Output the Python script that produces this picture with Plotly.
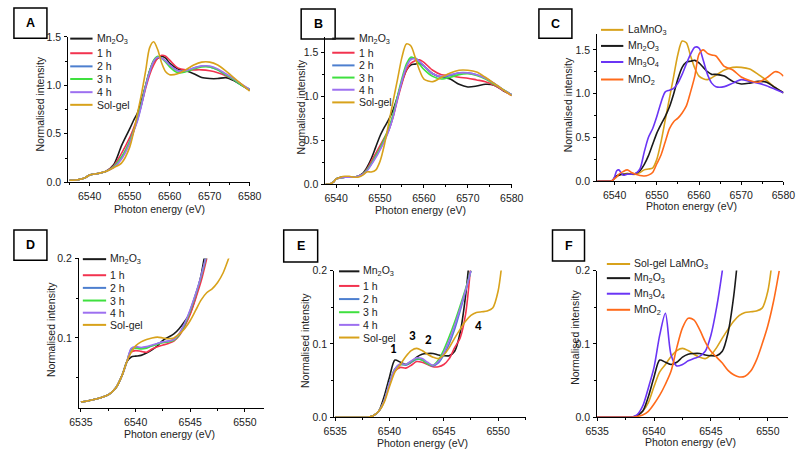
import plotly.graph_objects as go

W, H = 810, 456

# ---------------- data ----------------
# Panel A
xA = [6535, 6537, 6539, 6540, 6542, 6544, 6546, 6548, 6550, 6551, 6552, 6553, 6554, 6555,
      6556, 6557, 6558, 6559, 6560, 6562, 6564, 6566, 6568, 6570, 6572, 6574, 6576, 6578, 6580]
A_mn2o3 = [.02, .025, .05, .075, .09, .11, .18, .38, .55, .64, .72, .85, 1.0, 1.15,
           1.25, 1.28, 1.30, 1.28, 1.23, 1.17, 1.15, 1.12, 1.08, 1.07, 1.07, 1.08, 1.05, 1.0, .95]
A_1h = [.02, .025, .05, .075, .09, .11, .17, .30, .46, .56, .67, .81, .97, 1.11,
        1.21, 1.28, 1.31, 1.30, 1.26, 1.18, 1.16, 1.16, 1.16, 1.15, 1.13, 1.10, 1.06, 1.01, .95]
A_2h = [.02, .025, .05, .075, .09, .11, .16, .26, .42, .53, .65, .81, .99, 1.14,
        1.25, 1.29, 1.28, 1.25, 1.21, 1.15, 1.15, 1.18, 1.20, 1.19, 1.16, 1.11, 1.06, 1.0, .96]
A_3h = [.02, .025, .05, .075, .09, .11, .16, .26, .42, .53, .66, .82, 1.0, 1.15,
        1.26, 1.30, 1.28, 1.24, 1.19, 1.13, 1.14, 1.17, 1.19, 1.19, 1.16, 1.11, 1.06, 1.0, .96]
A_4h = [.02, .025, .05, .075, .09, .11, .15, .24, .40, .52, .64, .80, .99, 1.14,
        1.25, 1.29, 1.28, 1.25, 1.21, 1.15, 1.15, 1.18, 1.20, 1.20, 1.17, 1.12, 1.07, 1.01, .96]
A_sol = [.02, .025, .05, .075, .09, .11, .15, .20, .36, .52, .72, .92, 1.15, 1.39,
         1.45, 1.37, 1.23, 1.14, 1.11, 1.12, 1.16, 1.21, 1.24, 1.24, 1.21, 1.15, 1.08, 1.01, .94]

# Panel B
xB = [6537.6, 6538.5, 6539.5, 6540, 6541, 6542, 6543, 6544, 6545, 6546, 6547, 6548, 6549, 6550,
      6551, 6552, 6553, 6554, 6555, 6556, 6557, 6558, 6559, 6560, 6562, 6564, 6566, 6568, 6570,
      6572, 6574, 6576, 6578, 6580]
B_mn2o3 = [0, 0, .03, .06, .08, .08, .08, .08, .09, .12, .19, .29, .42, .55,
           .65, .74, .85, 1.0, 1.17, 1.30, 1.36, 1.37, 1.38, 1.35, 1.26, 1.22, 1.20, 1.14, 1.11,
           1.12, 1.14, 1.13, 1.07, 1.02]
B_1h = [0, 0, .03, .06, .07, .08, .08, .08, .09, .11, .17, .26, .35, .44,
        .53, .62, .77, .97, 1.15, 1.30, 1.38, 1.41, 1.42, 1.39, 1.30, 1.25, 1.24, 1.22, 1.21,
        1.19, 1.17, 1.13, 1.07, 1.01]
B_2h = [0, 0, .03, .06, .07, .08, .08, .08, .09, .11, .16, .23, .32, .40,
        .50, .62, .78, .99, 1.18, 1.34, 1.43, 1.44, 1.40, 1.35, 1.26, 1.22, 1.24, 1.27, 1.27,
        1.25, 1.21, 1.15, 1.08, 1.02]
B_3h = [0, 0, .03, .06, .07, .08, .08, .08, .09, .11, .16, .23, .32, .41,
        .52, .64, .80, 1.01, 1.21, 1.37, 1.45, 1.43, 1.37, 1.31, 1.23, 1.20, 1.22, 1.25, 1.26,
        1.24, 1.20, 1.14, 1.08, 1.02]
B_4h = [0, 0, .03, .06, .07, .08, .08, .08, .09, .11, .15, .22, .30, .39,
        .49, .61, .77, .98, 1.18, 1.34, 1.42, 1.43, 1.40, 1.35, 1.26, 1.23, 1.25, 1.27, 1.27,
        1.25, 1.21, 1.15, 1.08, 1.02]
B_sol = [0, 0, .03, .06, .08, .09, .09, .08, .08, .10, .14, .14, .16, .26,
         .45, .70, .95, 1.20, 1.45, 1.60, 1.58, 1.45, 1.30, 1.20, 1.17, 1.22, 1.27, 1.30, 1.30,
         1.28, 1.22, 1.15, 1.08, 1.01]

# Panel C
xC = [6535.9, 6538, 6539, 6539.5, 6540, 6540.5, 6541, 6542, 6543, 6544, 6545, 6546, 6547, 6548,
      6549, 6550, 6551, 6552, 6553, 6554, 6555, 6556, 6557, 6558, 6559, 6560, 6561, 6562, 6563,
      6564, 6566, 6568, 6570, 6572, 6574, 6576, 6578, 6579, 6580]
C_lamno3 = [0, 0, 0, .01, .04, .06, .07, .08, .09, .08, .08, .10, .13, .14,
            .15, .25, .45, .70, .95, 1.20, 1.45, 1.60, 1.58, 1.43, 1.29, 1.20, 1.17, 1.16, 1.18,
            1.21, 1.27, 1.30, 1.30, 1.28, 1.22, 1.15, 1.07, 1.04, 1.01]
C_mn2o3 = [0, 0, 0, .01, .04, .06, .07, .08, .08, .08, .09, .12, .19, .29,
           .42, .55, .65, .74, .85, 1.0, 1.17, 1.30, 1.36, 1.37, 1.38, 1.35, 1.30, 1.25, 1.22,
           1.22, 1.20, 1.14, 1.11, 1.12, 1.14, 1.13, 1.07, 1.04, 1.01]
C_mn3o4 = [0, 0, 0, .01, .05, .12, .13, .07, .08, .08, .09, .14, .33, .50,
           .60, .74, .90, 1.02, 1.04, 1.06, 1.12, 1.22, 1.34, 1.45, 1.53, 1.52, 1.38, 1.22, 1.12,
           1.08, 1.08, 1.12, 1.16, 1.14, 1.12, 1.09, 1.05, 1.03, 1.01]
C_mno2 = [0, 0, 0, .01, .03, .05, .08, .11, .13, .10, .08, .065, .06, .07,
          .10, .20, .30, .45, .60, .68, .72, .78, .86, 1.02, 1.20, 1.45, 1.50, 1.46, 1.44,
          1.43, 1.31, 1.27, 1.19, 1.15, 1.13, 1.18, 1.25, 1.24, 1.20]

# Panel D
xD = [6535, 6536.4, 6537.3, 6537.6, 6538.2, 6538.8, 6539.2, 6539.6, 6540, 6540.5, 6541, 6541.5,
      6542, 6542.5, 6543, 6543.5, 6544, 6544.5, 6545, 6545.5, 6546, 6546.5, 6547, 6547.5,
      6548, 6548.5, 6549]
D_mn2o3 = [.019, .023, .027, .029, .037, .054, .07, .076, .077, .078, .081, .085,
           .09, .097, .101, .105, .112, .121, .132, .152, .18, .22]
D_1h = [.019, .023, .027, .029, .037, .054, .07, .082, .084, .083, .082, .086,
        .089, .091, .093, .096, .103, .115, .13, .15, .172, .20, .23]
D_2h = [.019, .023, .027, .029, .037, .054, .07, .086, .088, .087, .088, .09,
        .093, .095, .096, .098, .105, .118, .135, .155, .178, .205]
D_3h = [.019, .023, .027, .029, .037, .054, .07, .085, .087, .086, .087, .09,
        .092, .094, .095, .097, .104, .117, .134, .155, .178, .205]
D_4h = [.019, .023, .027, .029, .037, .054, .07, .087, .089, .088, .089, .091,
        .093, .095, .096, .098, .106, .119, .136, .156, .179, .206]
D_sol = [.019, .023, .027, .029, .037, .054, .07, .082, .09, .095, .098, .1,
         .101, .1, .099, .1, .105, .112, .122, .135, .148, .157, .162, .17, .182, .2, .22]

# Panels E and F (same energy grid)
xEF = [6535, 6537, 6538, 6538.5, 6539, 6539.5, 6540, 6540.5, 6541, 6541.5, 6542, 6542.5,
       6543, 6543.5, 6544, 6544.5, 6545, 6545.5, 6546, 6546.5, 6547, 6547.5, 6548, 6548.5,
       6549, 6549.5, 6550, 6550.5, 6551]
E_mn2o3 = [0, 0, 0, .002, .008, .028, .055, .078, .075, .072, .075, .082,
           .086, .087, .087, .085, .084, .084, .09, .115, .165, .24]
E_1h = [0, 0, 0, .002, .008, .022, .045, .063, .068, .067, .071, .076,
        .075, .072, .069, .069, .072, .08, .095, .108, .14, .21]
E_2h = [0, 0, 0, .002, .008, .022, .047, .066, .072, .071, .075, .079,
        .078, .073, .07, .074, .085, .10, .12, .145, .172, .2]
E_3h = [0, 0, 0, .002, .008, .022, .047, .066, .072, .072, .076, .08,
        .078, .073, .071, .078, .092, .11, .13, .152, .175, .2]
E_4h = [0, 0, 0, .002, .008, .022, .047, .066, .073, .072, .077, .081,
        .08, .075, .071, .076, .088, .105, .125, .148, .173, .2]
E_sol = [0, 0, 0, .002, .008, .02, .042, .062, .072, .083, .091, .094,
         .091, .086, .082, .08, .085, .095, .108, .12, .131, .139, .143, .144,
         .145, .149, .172, .23]
F_mn3o4 = [0, 0, 0, .003, .015, .04, .068, .112, .142, .085, .07, .072,
           .077, .08, .083, .09, .112, .15, .2, .26]
F_mno2 = [0, 0, 0, .001, .003, .008, .018, .03, .045, .063, .095, .122,
          .135, .133, .12, .103, .09, .082, .074, .064, .058, .055, .056, .063,
          .078, .10, .125, .158, .2]

names_time = ["Mn<sub>2</sub>O<sub>3</sub>", "1 h", "2 h", "3 h", "4 h", "Sol-gel"]
names_ref_C = ["LaMnO<sub>3</sub>", "Mn<sub>2</sub>O<sub>3</sub>", "Mn<sub>3</sub>O<sub>4</sub>", "MnO<sub>2</sub>"]
names_ref_F = ["Sol-gel LaMnO<sub>3</sub>", "Mn<sub>2</sub>O<sub>3</sub>", "Mn<sub>3</sub>O<sub>4</sub>", "MnO<sub>2</sub>"]
peak_labels = ["1", "3", "2", "4"]

# ---------------- style ----------------
BLACK = "#1a1a1a"
RED = "#f2334f"
BLUE = "#4d7fcf"
GREEN = "#3fe03f"
LILAC = "#9d70f0"
GOLD = "#d8a21b"
VIOLET = "#6a35f5"
ORANGE = "#ff6a1a"
time_colors = [BLACK, RED, BLUE, GREEN, LILAC, GOLD]
FONT = "Arial, Liberation Sans, sans-serif"
TXT = "#222222"

fig = go.Figure()

# panel geometry in pixels: (left, right, top, bottom)
geom = {
    1: (58, 245, 31.7, 181),
    2: (323, 515, 32, 183),
    3: (603, 795, 29, 180),
    4: (69, 260, 259.3, 413.3),
    5: (332, 530, 271.7, 422.3),
    6: (603, 800, 271.7, 422.3),
}
xranges = {1: [6534.67, 6580], 2: [6537.57, 6580], 3: [6535.86, 6580],
           4: [6534.82, 6551.77], 5: [6534.9, 6552.6], 6: [6535, 6551.8]}
yranges = {1: [0, 1.5005], 2: [0, 1.678], 3: [0, 1.678],
           4: [0.011, 0.2003], 5: [0, 0.2003], 6: [0, 0.2003]}
xticks = {1: (6540, 10, 5), 2: (6540, 10, 5), 3: (6540, 10, 5),
          4: (6535, 5, 2.5), 5: (6535, 5, 2.5), 6: (6535, 5, 2.5)}
yticks = {1: (0.5, 0.25), 2: (0.5, 0.25), 3: (0.5, 0.25),
          4: (0.1, 0.05), 5: (0.1, 0.05), 6: (0.1, 0.05)}


def add(i, x, y, color):
    sfx = "" if i == 1 else str(i)
    fig.add_trace(go.Scatter(x=x[:len(y)], y=y, mode="lines",
                             line=dict(color=color, width=1.6, shape="spline", smoothing=0.8),
                             xaxis="x" + sfx, yaxis="y" + sfx, showlegend=False,
                             hoverinfo="skip"))


for ys, c in zip([A_mn2o3, A_1h, A_2h, A_3h, A_4h, A_sol], time_colors):
    add(1, xA, ys, c)
for ys, c in zip([B_mn2o3, B_1h, B_2h, B_3h, B_4h, B_sol], time_colors):
    add(2, xB, ys, c)
for ys, c in zip([C_lamno3, C_mn2o3, C_mn3o4, C_mno2], [GOLD, BLACK, VIOLET, ORANGE]):
    add(3, xC, ys, c)
for ys, c in zip([D_mn2o3, D_1h, D_2h, D_3h, D_4h, D_sol], time_colors):
    add(4, xD, ys, c)
for ys, c in zip([E_mn2o3, E_1h, E_2h, E_3h, E_4h, E_sol], time_colors):
    add(5, xEF, ys, c)
for ys, c in zip([E_sol, E_mn2o3, F_mn3o4, F_mno2], [GOLD, BLACK, VIOLET, ORANGE]):
    add(6, xEF, ys, c)

layout = dict(width=W, height=H, margin=dict(l=0, r=0, t=0, b=0),
              paper_bgcolor="white", plot_bgcolor="white",
              font=dict(family=FONT, color=TXT, size=11), showlegend=False)

for i, (l, r, t, b) in geom.items():
    sfx = "" if i == 1 else str(i)
    t0, dt, mdt = xticks[i]
    ydt, ymdt = yticks[i]
    common = dict(showline=True, linecolor="black", linewidth=1, ticks="outside",
                  ticklen=3, tickcolor="black", tickwidth=1, showgrid=False, zeroline=False,
                  tickfont=dict(size=10.5, color=TXT, family=FONT), fixedrange=True)
    layout["xaxis" + sfx] = dict(domain=[l / W, r / W], range=xranges[i], anchor="y" + sfx,
                                 tick0=t0, dtick=dt,
                                 minor=dict(ticks="outside", ticklen=2, dtick=mdt, tick0=t0,
                                            tickcolor="black", showgrid=False),
                                 ticklabelstandoff=1, **common)
    layout["yaxis" + sfx] = dict(domain=[1 - b / H, 1 - t / H], range=yranges[i], anchor="x" + sfx,
                                 tick0=0, dtick=ydt, tickformat=".1f",
                                 minor=dict(ticks="outside", ticklen=2, dtick=ymdt, tick0=0,
                                            tickcolor="black", showgrid=False),
                                 ticklabelstandoff=1, **common)

shapes = []
annotations = []


def ptxt(x, y, text, size=10.5, angle=0, anchor="center", color=TXT, family=FONT):
    annotations.append(dict(x=x / W, y=1 - y / H, xref="paper", yref="paper", text=text,
                            showarrow=False, textangle=angle, xanchor=anchor, yanchor="middle",
                            font=dict(size=size, family=family, color=color)))


# axis titles
ytitle_pos = {1: (29, 101), 2: (298, 104), 3: (573, 102), 4: (40, 332), 5: (302, 344), 6: (580, 340)}
xtitle_pos = {1: (152, 208), 2: (421, 210), 3: (700, 205), 4: (162, 440), 5: (423, 449), 6: (699, 448)}
for i in geom:
    ptxt(*ytitle_pos[i], "Normalised intensity", size=10.5, angle=-90)
    ptxt(*xtitle_pos[i], "Photon energy (eV)", size=10.5)

# panel label boxes
boxes = {"A": (2, 36, 2, 33), "B": (298, 333, 3, 34), "C": (543, 577, 3, 33),
         "D": (2, 36, 230, 261), "E": (280, 315, 230, 263), "F": (557, 590, 230, 262)}
for lab, (x0, x1, y0, y1) in boxes.items():
    shapes.append(dict(type="rect", xref="paper", yref="paper", x0=x0 / W, x1=x1 / W,
                       y0=1 - y1 / H, y1=1 - y0 / H, line=dict(color="black", width=1.5)))
    ptxt((x0 + x1) / 2, (y0 + y1) / 2, "<b>%s</b>" % lab, size=12.5, color="black")


# legends drawn as line samples + text
def legend(x0, x1, tx, rows, names, colors):
    for yy, nm, c in zip(rows, names, colors):
        shapes.append(dict(type="line", xref="paper", yref="paper", x0=x0 / W, x1=x1 / W,
                           y0=1 - yy / H, y1=1 - yy / H, line=dict(color=c, width=2)))
        ptxt(tx, yy, nm, size=10.5, anchor="left")


legend(60, 83, 86, [33.5, 48.5, 62, 75, 88.5, 101.5], names_time, time_colors)
legend(330, 353, 356, [33.5, 48, 61, 73.5, 86, 99], names_time, time_colors)
legend(607, 630, 633, [24.5, 41, 57.5, 75.5], names_ref_C, [GOLD, BLACK, VIOLET, ORANGE])
legend(73, 97, 99, [260, 276.5, 289.5, 302.5, 315, 327.5], names_time, time_colors)
legend(337, 358, 360, [272.5, 287.5, 301, 314.5, 327.5, 340.5], names_time, time_colors)
legend(613, 637, 639, [265, 279.5, 295.5, 312], names_ref_F, [GOLD, BLACK, VIOLET, ORANGE])

# peak labels in E
for txt, (x, y) in zip(peak_labels, [(393, 352), (413, 338), (429, 342), (481, 328)]):
    ptxt(x, y, "<b>%s</b>" % txt, size=13, color="black",
         family="Calibri, Carlito, Liberation Sans, sans-serif")

layout["shapes"] = shapes
layout["annotations"] = annotations
fig.update_layout(**layout)
fig.write_html("out.html", config={"displayModeBar": False},
               post_script="document.body.style.margin='0';document.body.style.overflow='hidden';")
